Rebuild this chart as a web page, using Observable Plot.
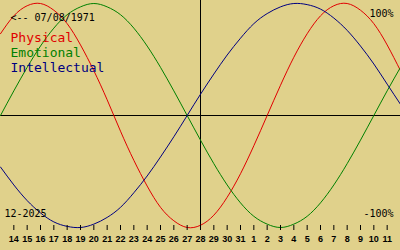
<!DOCTYPE html>
<html><head><meta charset="utf-8">
<script src="https://cdn.jsdelivr.net/npm/d3@7"></script>
<script src="https://cdn.jsdelivr.net/npm/@observablehq/plot@0.6"></script>
<style>html,body{margin:0;padding:0;background:#e0d18b;overflow:hidden;}</style>
</head><body><div id="chart"></div>
<script>
// day index: -1 .. 29 (0 = Dec 14, 2025)
const dayIndex = [-1,0,1,2,3,4,5,6,7,8,9,10,11,12,13,14,15,16,17,18,19,20,21,22,23,24,25,26,27,28,29];
const dayLabels = ["14","15","16","17","18","19","20","21","22","23","24","25","26","27","28","29","30","31","1","2","3","4","5","6","7","8","9","10","11"];
const physical = [0.73,0.89,0.98,1.00,0.94,0.82,0.63,0.40,0.14,-0.14,-0.40,-0.63,-0.82,-0.94,-1.00,-0.98,-0.89,-0.73,-0.52,-0.27,0.00,0.27,0.52,0.73,0.89,0.98,1.00,0.94,0.82,0.63,0.40];
const emotional = [0.00,0.22,0.43,0.62,0.78,0.90,0.97,1.00,0.97,0.90,0.78,0.62,0.43,0.22,0.00,-0.22,-0.43,-0.62,-0.78,-0.90,-0.97,-1.00,-0.97,-0.90,-0.78,-0.62,-0.43,-0.22,0.00,0.22,0.43];
const intellectual = [-0.46,-0.62,-0.76,-0.87,-0.95,-0.99,-1.00,-0.97,-0.91,-0.82,-0.69,-0.54,-0.37,-0.19,0.00,0.19,0.37,0.54,0.69,0.82,0.91,0.97,1.00,0.99,0.95,0.87,0.76,0.62,0.46,0.28,0.10];
const seriesNames = ["Physical","Emotional","Intellectual"];
const seriesColors = ["#e00000","#008000","#000080"];
const seriesValues = [physical, emotional, intellectual];
const todayIndex = 14;
const birthLabel = "<-- 07/08/1971";
const monthLabel = "12-2025";

const mono = "'DejaVu Sans Mono', 'Liberation Mono', monospace";

const lineMarks = seriesNames.map((name, k) =>
  Plot.line(dayIndex.map((d, j) => ({d, v: seriesValues[k][j]})), {
    x: "d", y: "v", stroke: seriesColors[k], strokeWidth: 1, curve: "natural"
  })
);

const legendMarks = seriesNames.map((name, k) =>
  Plot.text([name], {
    frameAnchor: "top-left", dx: 10, dy: 41.5 + 15 * k, text: d => d,
    textAnchor: "start", lineAnchor: "bottom", fill: seriesColors[k],
    fontSize: 13, fontFamily: mono
  })
);

const chart = Plot.plot({
  width: 400, height: 250,
  marginTop: 0, marginRight: 0, marginBottom: 25, marginLeft: 0,
  style: {background: "#e0d18b", color: "black", overflow: "visible"},
  x: {domain: [-1, 29], range: [0, 400], axis: null, label: null},
  y: {domain: [-1, 1], range: [227, 3], axis: null},
  marks: [
    Plot.ruleY([0], {stroke: "black", strokeWidth: 1}),
    Plot.ruleX([todayIndex], {stroke: "black", strokeWidth: 1}),
    ...lineMarks,
    Plot.axisX({
      ticks: dayLabels.map((_, i) => i), tickFormat: i => dayLabels[i], label: null,
      tickSize: 5, tickPadding: 5, fontSize: 9, fontWeight: "bold",
      fontFamily: "'Liberation Sans', Arial, sans-serif", stroke: "black", fill: "black"
    }),
    Plot.text([birthLabel], {frameAnchor: "top-left", dx: 10, dy: 20.5, text: d => d, textAnchor: "start", lineAnchor: "bottom", fontSize: 10, fontFamily: mono, fill: "black"}),
    ...legendMarks,
    Plot.text(["100%"], {frameAnchor: "top-right", dx: -7, dy: 16, text: d => d, textAnchor: "end", lineAnchor: "bottom", fontSize: 10, fontFamily: mono, fill: "black"}),
    Plot.text(["-100%"], {frameAnchor: "top-right", dx: -7, dy: 216, text: d => d, textAnchor: "end", lineAnchor: "bottom", fontSize: 10, fontFamily: mono, fill: "black"}),
    Plot.text([monthLabel], {frameAnchor: "top-left", dx: 4, dy: 216, text: d => d, textAnchor: "start", lineAnchor: "bottom", fontSize: 10, fontFamily: mono, fill: "black"})
  ]
});
document.getElementById("chart").appendChild(chart);
</script>
</body></html>
